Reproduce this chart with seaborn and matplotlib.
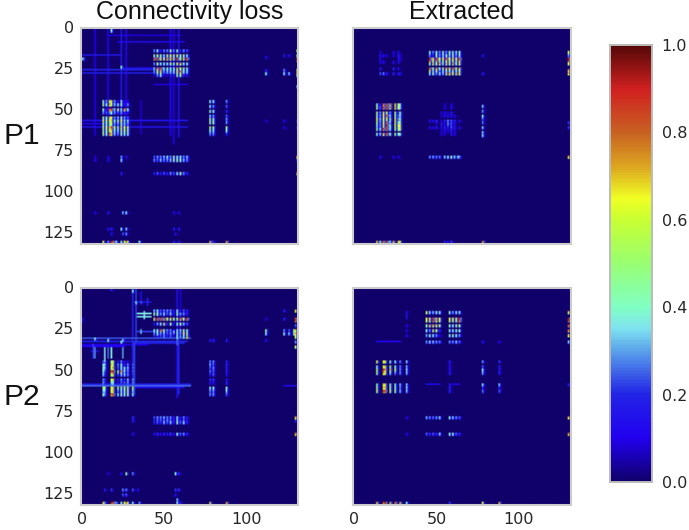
import numpy as np
import matplotlib
matplotlib.use("Agg")
import matplotlib.pyplot as plt
from matplotlib.colors import LinearSegmentedColormap
import seaborn as sns

N = 132
TICKS = [0, 25, 50, 75, 100, 125]
COLS_TITLES = ["Connectivity loss", "Extracted"]
ROW_LABELS = ["P1", "P2"]

# ---- P1 connectivity loss ----
p1c_top_rows = [13, 16, 18, 21, 24, 26, 28]
p1c_top_cols = [44, 46, 48, 50, 52, 54, 56, 58, 60, 62, 64]
p1c_top = [
    [.30, .40, .20, .30, .30, .50, .30, .50, .20, .30, .25],
    [.50, .60, .55, .40, .60, .65, .60, .65, .50, .60, .40],
    [.90, .95, .70, .65, .80, .75, .70, .95, .60, .70, .90],
    [.30, .60, .40, .50, .40, .60, .50, .65, .75, .40, .50],
    [.35, .80, .90, .40, .50, .40, .50, .70, .65, .55, .45],
    [.30, .60, .70, .30, .35, .35, .40, .65, .80, .45, .40],
    [.10, .30, .45, .10, .10, .20, .20, .50, .60, .20, .20],
]
p1c_left_rows = [44, 46, 49, 51, 54, 56, 58, 60, 62, 64]
p1c_left_cols = [13, 15, 17, 18, 20, 22, 24, 26, 28]
p1c_left = [
    [.45, .30, .65, .70, .30, .15, .40, .10, .10],
    [.55, .40, .75, .60, .35, .45, .50, .15, .30],
    [.50, .20, .85, .90, .35, .65, .40, .80, .45],
    [.30, .25, .30, .45, .30, .25, .30, .20, .15],
    [.55, .45, .70, .65, .30, .35, .55, .30, .25],
    [.65, .55, .65, .68, .40, .55, .65, .35, .40],
    [.50, .45, .55, .60, .30, .30, .50, .35, .30],
    [.60, .65, .70, .90, .60, .55, .70, .62, .65],
    [.50, .55, .65, .70, .40, .40, .55, .60, .55],
    [.55, .45, .85, .70, .35, .30, .55, .40, .50],
]
p1c_side_cols = [78, 80, 88]
p1c_side_rows = [44, 47, 50, 53, 55, 57, 60, 62, 64]
p1c_side = [
    [.45, .40, .30],
    [.40, .30, .25],
    [.50, .45, .20],
    [.35, .30, .25],
    [.55, .50, .30],
    [.55, .55, .30],
    [.60, .55, .55],
    [.45, .40, .40],
    [.30, .30, .20],
]
p1c_low_rows = [78, 80, 88]
p1c_low_cols = [44, 46, 48, 50, 52, 54, 56, 58, 60, 62, 64]
p1c_low = [
    [.25, .30, .30, .35, .40, .30, .55, .45, .40, .30, .35],
    [.30, .25, .35, .30, .30, .35, .55, .55, .45, .35, .30],
    [.18, .25, .18, .25, .20, .30, .25, .40, .55, .30, .20],
]
# row, first col, last col, level
p1c_hlines = [(8, 22, 62, .13), (4, 16, 60, .08), (16, 0, 24, .17), (25, 0, 64, .20),
              (27, 0, 64, .18), (24, 24, 46, .15), (56, 0, 64, .15), (60, 0, 64, .16),
              (58, 0, 12, .12), (34, 44, 64, .08)]
p1c_vlines = [(8, 0, 65, .10), (16, 0, 65, .11), (24, 0, 65, .15), (27, 0, 65, .11),
              (54, 0, 65, .11), (56, 0, 70, .10), (59, 0, 66, .15), (36, 44, 64, .08)]
p1c_spots = [(0, 18, .38), (1, 18, .40), (18, 0, .38), (18, 1, .30), (23, 24, .45),
             (17, 112, .15), (27, 112, .45), (25, 112, .20),
             (13, 131, .60), (18, 131, .85), (19, 131, .95), (16, 131, .40),
             (25, 131, .60), (26, 131, .70), (27, 131, .70), (28, 131, .50), (35, 131, .35),
             (16, 123, .18), (25, 123, .30), (27, 123, .40), (16, 126, .15), (27, 126, .35),
             (56, 131, .18), (60, 131, .15), (56, 112, .10), (60, 123, .12), (56, 123, .12),
             (78, 131, .75), (80, 131, .20), (88, 131, .80), (78, 24, .30), (80, 24, .38),
             (78, 8, .10), (80, 8, .12), (78, 16, .12), (80, 16, .14), (78, 27, .15), (88, 24, .20),
             (112, 8, .12), (112, 16, .18), (112, 25, .35), (112, 27, .40),
             (112, 56, .13), (112, 59, .12),
             (122, 16, .18), (122, 18, .18), (122, 24, .40), (122, 27, .35), (122, 56, .18),
             (122, 59, .18), (125, 18, .15), (125, 25, .25), (125, 27, .30), (125, 57, .15),
             (130, 13, .65), (130, 16, .30), (130, 18, .95), (130, 19, .85), (130, 21, .35),
             (130, 24, .45), (130, 26, .60), (130, 27, .85), (130, 28, .50), (130, 35, .40),
             (130, 56, .18), (130, 59, .18), (130, 78, .75), (130, 80, .20), (130, 88, .80)]

# ---- P1 extracted ----
p1e_top_rows = [14, 16, 18, 19, 21, 24, 25, 27]
p1e_top_cols = [46, 48, 50, 52, 54, 56, 58, 60, 62, 64]
p1e_top = [
    [.45, .30, .50, .30, .50, .30, .50, .45, .40, .50],
    [.30, .20, .45, .30, .40, .50, .35, .55, .30, .40],
    [.95, .70, .92, .62, .65, .90, .62, .70, .65, .85],
    [.90, .65, .85, .60, .62, .75, .62, .65, .60, .80],
    [.55, .70, .55, .75, .40, .70, .55, .80, .50, .70],
    [.85, .55, .80, .45, .60, .75, .70, .85, .60, .75],
    [.70, .40, .65, .30, .45, .55, .45, .50, .55, .60],
    [.40, .55, .30, .40, .35, .70, .75, .65, .72, .70],
]
p1e_left_rows = [46, 48, 51, 53, 55, 57, 59, 61, 64]
p1e_left_cols = [14, 16, 18, 20, 22, 25, 27, 28]
p1e_left = [
    [.50, .20, .85, .92, .82, .70, .62, .45],
    [.55, .25, .90, .95, .80, .72, .65, .40],
    [.55, .30, .70, .65, .30, .55, .20, .55],
    [.50, .30, .68, .85, .35, .55, .25, .40],
    [.65, .35, .66, .64, .55, .68, .30, .55],
    [.60, .30, .68, .90, .35, .68, .40, .60],
    [.40, .30, .70, .95, .50, .60, .65, .65],
    [.50, .40, .90, .92, .40, .55, .50, .65],
    [.45, .35, .75, .90, .50, .55, .40, .50],
]
p1e_faint_rows = [14, 16, 18, 20, 24, 27]
p1e_faint_cols = [16, 18, 20, 24, 27, 28]
p1e_faint = [
    [.10, .00, .00, .12, .12, .00],
    [.15, .15, .10, .10, .18, .10],
    [.12, .00, .00, .00, .14, .10],
    [.12, .14, .00, .14, .16, .00],
    [.18, .00, .00, .20, .14, .00],
    [.25, .28, .20, .20, .16, .15],
]
p1e_center_rows = [46, 48, 51, 53, 56, 58, 60, 62, 64]
p1e_center_cols = [46, 48, 50, 53, 55, 57, 59, 61, 64]
p1e_center = [
    [0, 0, 0, 0, .10, 0, .12, 0, 0],
    [0, 0, 0, 0, .10, 0, .14, 0, 0],
    [0, 0, 0, .10, .12, .10, .18, 0, 0],
    [0, 0, 0, .08, .14, .14, .12, .11, 0],
    [.16, .16, .20, .10, .20, .30, .25, .20, .14],
    [0, 0, .08, .18, .12, .30, .25, .14, 0],
    [.14, .14, .16, .14, .20, .18, .25, .18, .14],
    [0, 0, 0, .10, .13, .12, .18, .10, 0],
    [0, 0, 0, .10, .10, 0, .16, .12, 0],
]
p1e_spots = [(47, 78, .35), (50, 78, .30), (53, 78, .40), (55, 78, .25), (57, 78, .28),
             (60, 78, .35), (63, 78, .35), (65, 78, .35), (16, 78, .15), (27, 78, .18),
             (14, 130, .65), (16, 130, .30), (18, 130, .92), (19, 130, .95), (20, 130, .60),
             (21, 130, .65), (25, 130, .80), (27, 130, .75), (57, 130, .22), (60, 130, .22),
             (78, 130, .75), (78, 46, .30), (78, 48, .32), (78, 50, .28),
             (78, 52, .28), (78, 55, .35), (78, 57, .45), (78, 59, .50), (78, 61, .35),
             (78, 63, .35), (78, 64, .30), (78, 16, .14), (78, 24, .12), (78, 27, .12),
             (130, 14, .70), (130, 16, .50), (130, 18, .85), (130, 20, .95), (130, 22, .35),
             (130, 24, .75), (130, 27, .70), (130, 28, .65),
             (130, 55, .18), (130, 57, .15), (130, 59, .22), (130, 78, .80)]

# ---- P2 connectivity loss ----
p2c_top_rows = [13, 15, 18, 21, 25, 27, 29]
p2c_top_cols = [44, 46, 48, 50, 52, 54, 56, 58, 60, 62, 64]
p2c_top = [
    [.35, .40, .25, .30, .30, .30, .20, .45, .15, .25, .20],
    [.55, .50, .30, .40, .25, .35, .20, .50, .30, .30, .20],
    [.70, .90, .92, .85, .65, .70, .60, .62, .85, .65, .90],
    [.15, .30, .40, .70, .20, .55, .15, .45, .55, .35, .25],
    [.40, .45, .85, .60, .30, .30, .20, .42, .35, .62, .50],
    [.30, .40, .30, .35, .25, .30, .22, .45, .30, .65, .55],
    [.15, .20, .22, .30, .20, .25, .15, .42, .30, .40, .70],
]
p2c_left_rows = [44, 46, 48, 50, 52, 55, 57, 60, 62, 64]
p2c_left_cols = [13, 14, 18, 19, 22, 24, 26, 28, 31]
p2c_left = [
    [.25, .30, .50, .65, .20, .30, .10, .15, .20],
    [.40, .35, .70, .60, .30, .45, .20, .30, .25],
    [.45, .35, .60, .75, .25, .45, .40, .35, .25],
    [.40, .25, .90, .95, .55, .80, .35, .30, .25],
    [.35, .20, .60, .70, .25, .35, .35, .30, .22],
    [.30, .22, .62, .70, .20, .30, .22, .35, .30],
    [.30, .20, .35, .40, .15, .25, .25, .30, .28],
    [.55, .55, .65, .70, .55, .55, .55, .58, .60],
    [.35, .35, .65, .70, .30, .40, .45, .60, .35],
    [.45, .30, .85, .92, .40, .55, .40, .60, .40],
]
p2c_side_cols = [78, 80, 88]
p2c_side_rows = [44, 46, 48, 50, 52, 55, 57, 60, 62, 64]
p2c_side = [
    [.30, .30, .18], [.32, .25, .20], [.25, .30, .18], [.28, .25, .18], [.20, .25, .15],
    [.22, .22, .15], [.15, .15, .20], [.42, .45, .45], [.30, .30, .35], [.30, .30, .25],
]
p2c_low_rows = [78, 80, 81, 88]
p2c_low_cols = [44, 46, 48, 50, 52, 54, 56, 58, 60, 62, 64]
p2c_low = [
    [.25, .30, .30, .35, .30, .30, .20, .40, .15, .30, .20],
    [.20, .25, .25, .25, .30, .25, .20, .35, .20, .25, .15],
    [.20, .25, .20, .35, .25, .35, .20, .50, .25, .40, .20],
    [.15, .20, .15, .20, .18, .22, .15, .45, .25, .30, .20],
]
p2c_hlines = [(30, 0, 66, .24), (32, 0, 64, .20), (33, 32, 62, .20),
              (34, 0, 40, .10), (58, 0, 66, .17), (59, 0, 66, .26), (60, 32, 62, .13),
              (35, 0, 26, .12), (38, 6, 10, .14), (15, 34, 42, .36), (17, 34, 42, .36),
              (26, 34, 46, .22), (8, 31, 42, .18), (59, 123, 131, .13)]
p2c_vlines = [(31, 0, 65, .19), (33, 0, 32, .22), (32, 33, 64, .22),
              (58, 0, 66, .14), (59, 30, 64, .20), (58, 26, 34, .25),
              (14, 36, 44, .35), (16, 36, 42, .26), (18, 36, 42, .38), (8, 36, 42, .28), (25, 36, 42, .30),
              (60, 0, 30, .08), (7, 34, 42, .22), (36, 2, 8, .14), (40, 6, 10, .18),
              (38, 14, 18, .36), (36, 25, 27, .32)]
p2c_spots = [(0, 18, .20), (1, 31, .45), (8, 33, .40), (8, 36, .25), (26, 56, .35),
             (18, 0, .18), (19, 0, .18), (31, 16, .40), (30, 8, .40), (32, 24, .40), (31, 25, .35),
             (25, 112, .55), (27, 112, .40), (26, 112, .30), (31, 112, .15), (18, 112, .12),
             (13, 130, .72), (18, 130, .85), (19, 130, .92), (25, 130, .72), (27, 130, .75),
             (29, 130, .60), (35, 130, .60), (32, 130, .30), (22, 130, .25),
             (13, 123, .20), (18, 123, .20), (25, 123, .30), (27, 123, .45), (25, 126, .25), (27, 126, .35),
             (25, 129, .45), (27, 129, .40), (31, 78, .18), (31, 80, .20), (31, 88, .18),
             (78, 130, .75), (88, 130, .80), (80, 130, .20), (78, 31, .22), (80, 31, .20), (88, 31, .15),
             (112, 16, .12), (112, 24, .15), (112, 27, .55), (112, 31, .30), (112, 57, .40), (112, 59, .20),
             (122, 14, .18), (122, 18, .22), (122, 25, .30), (122, 27, .28), (122, 31, .25), (122, 34, .15),
             (122, 57, .22), (122, 59, .22), (125, 25, .25), (125, 27, .25), (125, 57, .15),
             (130, 13, .70), (130, 14, .30), (130, 18, .95), (130, 19, .88), (130, 21, .30),
             (130, 24, .45), (130, 26, .60), (130, 27, .85), (130, 28, .55), (130, 31, .40),
             (130, 35, .30), (128, 58, .35), (130, 58, .40), (130, 60, .18), (130, 78, .70), (130, 88, .80)]

# ---- P2 extracted ----
p2e_top_rows = [14, 18, 19, 22, 25, 28, 32]
p2e_top_cols = [44, 46, 48, 50, 52, 58, 60, 62, 64]
p2e_top = [
    [.68, .40, .35, .40, .45, .45, .32, .40, .38],
    [.66, .65, .88, .70, .65, .66, .62, .62, .90],
    [.66, .70, .92, .78, .65, .66, .62, .64, .88],
    [.50, .75, .75, .70, .60, .50, .45, .60, .55],
    [.40, .30, .68, .62, .20, .40, .45, .50, .45],
    [.32, .50, .40, .30, .12, .40, .55, .45, .30],
    [.30, .38, .35, .30, .28, .30, .30, .35, .25],
]
p2e_left_rows = [44, 47, 49, 51, 55, 58, 60, 62, 64]
p2e_left_cols = [14, 18, 19, 22, 25, 28, 32]
p2e_left = [
    [.65, .65, .68, .45, .42, .30, .36],
    [.45, .68, .70, .60, .50, .30, .34],
    [.60, .92, .78, .72, .60, .30, .36],
    [.55, .75, .65, .38, .30, .30, .34],
    [.00, .00, .00, .00, .00, .00, .00],
    [.50, .68, .68, .50, .45, .35, .35],
    [.55, .70, .72, .55, .48, .30, .35],
    [.62, .92, .88, .62, .55, .35, .34],
    [.00, .00, .00, .00, .00, .00, .00],
]
p2e_side_rows = [44, 47, 49, 51, 58, 60, 62]
p2e_side_cols = [58, 78, 88]
p2e_side = [
    [.18, .30, .22], [.15, .25, .18], [.16, .40, .18], [.18, .32, .20],
    [.18, .38, .35], [.18, .20, .18], [.20, .28, .25],
]
p2e_low_rows = [78, 88]
p2e_low_cols = [44, 46, 48, 50, 52, 58, 60, 62, 64]
p2e_low = [
    [.32, .30, .28, .30, .38, .40, .36, .30, .25],
    [.25, .22, .25, .20, .35, .42, .45, .25, .20],
]
p2e_hlines = [(58, 44, 52, .13), (58, 60, 64, .13), (32, 14, 28, .11)]
p2e_vlines = [(32, 15, 18, .14), (58, 46, 52, .12)]
p2e_spots = [(14, 32, .14), (22, 32, .12), (25, 32, .12), (28, 32, .12),
             (14, 130, .70), (18, 130, .92), (19, 130, .95), (22, 130, .90),
             (25, 130, .85), (28, 130, .70), (32, 130, .35), (32, 78, .15),
             (32, 88, .12), (58, 130, .18), (78, 130, .75), (78, 32, .12),
             (88, 130, .80), (88, 32, .12), (130, 14, .72), (130, 18, .85), (130, 19, .95),
             (130, 22, .75), (130, 25, .85), (130, 28, .75), (130, 32, .40),
             (130, 58, .22), (130, 78, .65), (130, 88, .75)]


def put(m, r, c, v):
    # a mark: full level on its cell, fading into the next cells
    if v > 0:
        for dr, dc, k in ((0, 0, 1.0), (1, 0, .85), (0, 1, .30), (1, 1, .25)):
            if r + dr < N and c + dc < N:
                m[r + dr, c + dc] = max(m[r + dr, c + dc], k * v)


def build(blocks, hlines=(), vlines=(), spots=()):
    m = np.zeros((N, N))
    for row, c0, c1, v in hlines:
        m[row, c0:c1 + 1] = np.maximum(m[row, c0:c1 + 1], v)
    for col, r0, r1, v in vlines:
        m[r0:r1 + 1, col] = np.maximum(m[r0:r1 + 1, col], v)
    for rows, cols, table in blocks:
        for r, line in zip(rows, table):
            for c, v in zip(cols, line):
                put(m, r, c, v)
    for r, c, v in spots:
        put(m, r, c, v)
    return m


panels = [
    [build([(p1c_top_rows, p1c_top_cols, p1c_top), (p1c_left_rows, p1c_left_cols, p1c_left),
            (p1c_side_rows, p1c_side_cols, p1c_side), (p1c_low_rows, p1c_low_cols, p1c_low)],
           p1c_hlines, p1c_vlines, p1c_spots),
     build([(p1e_top_rows, p1e_top_cols, p1e_top), (p1e_left_rows, p1e_left_cols, p1e_left),
            (p1e_faint_rows, p1e_faint_cols, p1e_faint), (p1e_center_rows, p1e_center_cols, p1e_center)],
           spots=p1e_spots)],
    [build([(p2c_top_rows, p2c_top_cols, p2c_top), (p2c_left_rows, p2c_left_cols, p2c_left),
            (p2c_side_rows, p2c_side_cols, p2c_side), (p2c_low_rows, p2c_low_cols, p2c_low)],
           p2c_hlines, p2c_vlines, p2c_spots),
     build([(p2e_top_rows, p2e_top_cols, p2e_top), (p2e_left_rows, p2e_left_cols, p2e_left),
            (p2e_side_rows, p2e_side_cols, p2e_side), (p2e_low_rows, p2e_low_cols, p2e_low)],
           p2e_hlines, p2e_vlines, p2e_spots)],
]

cmap = LinearSegmentedColormap.from_list("ref_jet", [
    (0.00, "#10006a"), (0.10, "#2200f0"), (0.20, "#2224e6"), (0.30, "#5aa2ea"), (0.35, "#7fe2f0"),
    (0.40, "#80ffc4"), (0.50, "#98ff72"), (0.60, "#c8ff32"), (0.65, "#f0ff24"), (0.72, "#dca820"),
    (0.80, "#c86222"), (0.90, "#d02020"), (1.00, "#560808")])

W, H = 689, 530
sns.set_theme(style="white", rc={"axes.edgecolor": "#cccccc", "axes.linewidth": 1.5})
plt.rcParams["font.family"] = ["DejaVu Sans"]
fig = plt.figure(figsize=(W / 100, H / 100), dpi=100)


def px_axes(x0, y0, x1, y1):
    return fig.add_axes([x0 / W, 1 - y1 / H, (x1 - x0) / W, (y1 - y0) / H])


xs = [(81, 298), (353, 571)]
ys = [(28, 244), (288, 505)]
cax = px_axes(610, 45, 652, 482)
TICK_FONT = {"fontsize": 11.5, "color": "#262626", "family": "DejaVu Sans"}
for i, (y0, y1) in enumerate(ys):
    for j, (x0, x1) in enumerate(xs):
        ax = px_axes(x0, y0, x1, y1)
        sns.heatmap(panels[i][j], ax=ax, cmap=cmap, vmin=0, vmax=1, cbar=(i == 0 and j == 0),
                    cbar_ax=cax if (i == 0 and j == 0) else None, square=False)
        ax.collections[0].remove()
        ax.imshow(panels[i][j], extent=(0, N, N, 0), cmap=cmap, vmin=0, vmax=1,
                  interpolation="bilinear", aspect="auto")
        ax.set_xlim(0, N)
        ax.set_ylim(N, 0)
        for s in ax.spines.values():
            s.set_visible(True)
            s.set_color("#cccccc")
            s.set_linewidth(1.5)
        pos = [t + 0.5 for t in TICKS]
        ax.set_yticks(pos if j == 0 else [])
        ax.set_yticklabels([str(t) for t in TICKS] if j == 0 else [], rotation=0, **TICK_FONT)
        xt = [0.5, 50.5, 100.5]
        ax.set_xticks(xt if i == 1 else [])
        ax.set_xticklabels(["0", "50", "100"] if i == 1 else [], rotation=0, **TICK_FONT)
        ax.tick_params(length=0, pad=5)
        if i == 0:
            ax.text(0.5, 1 + 9 / 216, COLS_TITLES[j], transform=ax.transAxes, ha="center", va="baseline",
                    fontsize=18, family="Liberation Sans", color="#111111")

for lab, y in zip(ROW_LABELS, (136, 397)):
    fig.text(22 / W, 1 - y / H, lab, ha="center", va="center", fontsize=21.5,
             family="Liberation Sans", color="#111111")

cax.set_yticks([0, .2, .4, .6, .8, 1])
cax.set_yticklabels(["0.0", "0.2", "0.4", "0.6", "0.8", "1.0"], **TICK_FONT)
cax.tick_params(length=0, pad=7)
for s in cax.spines.values():
    s.set_visible(True)
    s.set_color("#bbbbbb")
    s.set_linewidth(1.2)

fig.savefig("out.png", dpi=100)
